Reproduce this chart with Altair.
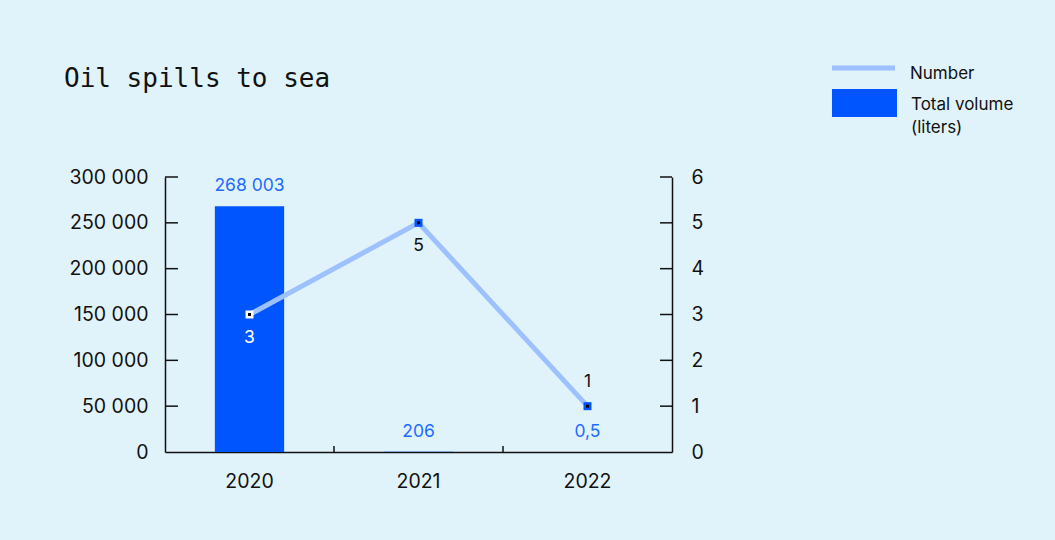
import altair as alt
import pandas as pd

# Oil spills to sea, 2020-2022
years = ["2020", "2021", "2022"]
volume_liters = [268003, 206, 0.5]
spill_count = [3, 5, 1]

left_ticks = [50000, 100000, 150000, 200000, 250000, 300000]
right_ticks = [1, 2, 3, 4, 5, 6]

BG = "#E1F3FA"
BAR = "#0055FF"
BAR_LABEL = "#1F6BFF"
LINE = "#9DC0FF"
INK = "#111111"
SANS = "Inter"
MONO = "DejaVu Sans Mono"
AXIS_FS = 19.5

W, H = 507, 275
STEP = W / len(years)

df = pd.DataFrame({"year": years, "volume": volume_liters, "count": spill_count})

x_enc = alt.X(
    "year:N",
    scale=alt.Scale(paddingInner=0.59, paddingOuter=0.295),
    axis=alt.Axis(
        title=None, ticks=False, labelAngle=0, labelPadding=20,
        labelFontSize=AXIS_FS, labelFont=SANS, labelColor=INK,
        domainColor=INK, domainWidth=1.5,
    ),
)

base = alt.Chart(df)

# Volume (left axis)
y_left = alt.Y(
    "volume:Q",
    scale=alt.Scale(domain=[0, 300000], nice=False),
    axis=alt.Axis(
        title=None, values=[0] + left_ticks, ticks=False, grid=False,
        labelPadding=17, labelFontSize=AXIS_FS, labelFont=SANS, labelColor=INK,
        domainColor=INK, domainWidth=1.5, format=",.0f",
    ),
)

bars = base.mark_bar(color=BAR).encode(x=x_enc, y=y_left)
bar_labels = base.mark_text(
    baseline="bottom", dy=-11, fontSize=17.5, font=SANS, color=BAR_LABEL
).encode(x="year:N", y="volume:Q", text=alt.Text("volume:Q", format=","))

left_tick_rules = alt.Chart(pd.DataFrame({"v": left_ticks})).mark_rule(
    color=INK, strokeWidth=1.5
).encode(y=alt.Y("v:Q"), x=alt.value(0), x2=alt.value(13))

x_tick_rules = base.transform_filter(alt.datum.year != "2020").mark_rule(
    color=INK, strokeWidth=1.5, xOffset=-STEP / 2
).encode(x="year:N", y=alt.value(H - 6), y2=alt.value(H))

left = alt.layer(bars, bar_labels, left_tick_rules, x_tick_rules)

# Number of spills (right axis)
y_right = alt.Y(
    "count:Q",
    scale=alt.Scale(domain=[0, 6], nice=False),
    axis=alt.Axis(
        title=None, orient="right", values=[0] + right_ticks, ticks=False,
        grid=False, labelPadding=19, labelFontSize=AXIS_FS, labelFont=SANS,
        labelColor=INK, domainColor=INK, domainWidth=1.5,
    ),
)

line = base.mark_line(color=LINE, strokeWidth=5).encode(x="year:N", y=y_right)
markers = base.mark_point(shape="square", filled=True, size=64, opacity=1).encode(
    x="year:N",
    y="count:Q",
    color=alt.condition(alt.datum.year == "2020", alt.value("white"), alt.value(BAR)),
)
marker_dots = base.mark_point(
    shape="square", filled=True, size=9, color="black", opacity=1
).encode(x="year:N", y="count:Q")

count_below = base.transform_filter(alt.datum.year != "2022").mark_text(
    baseline="middle", dy=23, fontSize=17.5, font=SANS
).encode(
    x="year:N",
    y="count:Q",
    text="count:Q",
    color=alt.condition(alt.datum.year == "2020", alt.value("white"), alt.value(INK)),
)
count_above = base.transform_filter(alt.datum.year == "2022").mark_text(
    baseline="middle", dy=-24, fontSize=17.5, font=SANS, color=INK
).encode(x="year:N", y="count:Q", text="count:Q")

right_tick_rules = alt.Chart(pd.DataFrame({"v": right_ticks})).mark_rule(
    color=INK, strokeWidth=1.5
).encode(y=alt.Y("v:Q"), x=alt.value(W - 12), x2=alt.value(W))

right = alt.layer(line, markers, marker_dots, count_below, count_above, right_tick_rules)

# Heading and legend
one = alt.Data(values=[{}])
heading = alt.Chart(one).mark_text(
    text="Oil spills to sea", font=MONO, fontSize=26, color=INK,
    align="left", baseline="alphabetic",
).encode(x=alt.value(-101), y=alt.value(-90))

legend_line = alt.Chart(one).mark_rule(color=LINE, strokeWidth=5).encode(
    x=alt.value(667), x2=alt.value(730), y=alt.value(-109)
)
legend_rect = alt.Chart(one).mark_rect(color=BAR).encode(
    x=alt.value(667), x2=alt.value(732), y=alt.value(-88), y2=alt.value(-60)
)
legend_number = alt.Chart(one).mark_text(
    text="Number", font=SANS, fontSize=17, color=INK, align="left", baseline="middle"
).encode(x=alt.value(745), y=alt.value(-103))
legend_volume = alt.Chart(one).mark_text(
    text=["Total volume", "(liters)"], font=SANS, fontSize=17, color=INK,
    align="left", baseline="middle", lineHeight=23,
).encode(x=alt.value(746), y=alt.value(-72))

chart = (
    alt.layer(left, right, heading, legend_line, legend_rect, legend_number, legend_volume)
    .resolve_scale(y="independent")
    .properties(
        width=W,
        height=H,
        autosize="none",
        padding={"left": 165, "top": 177, "right": 383, "bottom": 88},
    )
    .configure(
        background=BG,
        locale={"number": {"decimal": ",", "thousands": "\u00a0", "grouping": [3], "currency": ["", ""]}},
    )
    .configure_view(stroke=None)
)

chart.save("out.html", embed_options={"renderer": "svg", "actions": False})
